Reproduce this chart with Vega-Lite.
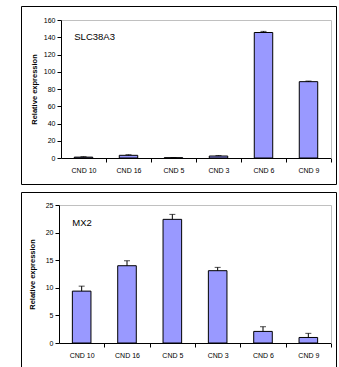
{
  "$schema": "https://vega.github.io/schema/vega-lite/v6.json",
  "padding": {"left": 20, "top": 5, "right": 0, "bottom": 0},
  "spacing": 6,
  "config": {
    "font": "Liberation Sans",
    "view": {"stroke": "black", "strokeWidth": 1, "fill": "white"},
    "axis": {"labelFont": "Liberation Sans", "labelFontSize": 7, "labelColor": "black", "domainColor": "black", "tickColor": "black", "tickSize": 4, "grid": false, "titleFont": "Liberation Sans", "titleColor": "black"}
  },
  "vconcat": [
    {
      "width": 315,
      "height": 178,
      "data": {"values": [
        {"cat": "CND 10", "value": 1.0, "upper": 1.5},
        {"cat": "CND 16", "value": 3.1, "upper": 3.8},
        {"cat": "CND 5", "value": 0.3, "upper": 0.5},
        {"cat": "CND 3", "value": 2.3, "upper": 2.8},
        {"cat": "CND 6", "value": 145.5, "upper": 146.8},
        {"cat": "CND 9", "value": 88.5, "upper": 89.2}
      ]},
      "resolve": {"axis": {"x": "independent", "y": "independent"}},
      "layer": [
        {
          "mark": {"type": "bar", "fill": "#9999ff", "stroke": "black", "strokeWidth": 1},
          "encoding": {
            "x": {"field": "cat", "type": "nominal", "sort": null,
              "scale": {"domain": ["CND 10", "CND 16", "CND 5", "CND 3", "CND 6", "CND 9"], "range": [40, 310], "paddingInner": 0.59, "paddingOuter": 0.295},
              "axis": {"orient": "bottom", "offset": -26, "title": null, "labelAngle": 0, "ticks": true, "tickOffset": 22.5, "labelOffset": -22.5, "tickWidth": 1, "labelPadding": 4}},
            "y": {"field": "value", "type": "quantitative",
              "scale": {"domain": [0, 160], "range": [152, 14], "nice": false, "zero": true},
              "axis": {"orient": "left", "offset": -40, "values": [0, 20, 40, 60, 80, 100, 120, 140, 160], "labelPadding": 2, "title": "Relative expression", "titleFontSize": 7.5, "titleFontWeight": "bold", "titlePadding": 5}}
          }
        },
        {
          "mark": {"type": "rule", "color": "black", "strokeWidth": 1},
          "encoding": {
            "x": {"field": "cat", "type": "nominal", "sort": null,
              "axis": {"orient": "top", "offset": -14, "domainColor": "#c0c0c0", "ticks": false, "labels": false, "title": null}},
            "y": {"field": "value", "type": "quantitative",
              "axis": {"orient": "right", "offset": -5, "domainColor": "#c0c0c0", "ticks": false, "labels": false, "title": null}},
            "y2": {"field": "upper"}
          }
        },
        {
          "mark": {"type": "tick", "color": "black", "thickness": 1, "size": 6},
          "encoding": {
            "x": {"field": "cat", "type": "nominal", "sort": null, "axis": null},
            "y": {"field": "upper", "type": "quantitative", "axis": null}
          }
        },
        {
          "data": {"values": [{"gene": "SLC38A3"}]},
          "mark": {"type": "text", "align": "left", "baseline": "middle", "fontSize": 9.5, "color": "black"},
          "encoding": {
            "x": {"datum": "CND 10", "type": "nominal", "bandPosition": 0, "axis": null},
            "y": {"datum": 140, "type": "quantitative", "axis": null},
            "text": {"field": "gene"}
          }
        }
      ]
    },
    {
      "width": 315,
      "height": 178,
      "data": {"values": [
        {"cat": "CND 10", "value": 9.4, "upper": 10.3},
        {"cat": "CND 16", "value": 14.0, "upper": 14.9},
        {"cat": "CND 5", "value": 22.4, "upper": 23.3},
        {"cat": "CND 3", "value": 13.1, "upper": 13.7},
        {"cat": "CND 6", "value": 2.1, "upper": 2.95},
        {"cat": "CND 9", "value": 1.0, "upper": 1.75}
      ]},
      "resolve": {"axis": {"x": "independent", "y": "independent"}},
      "layer": [
        {
          "mark": {"type": "bar", "fill": "#9999ff", "stroke": "black", "strokeWidth": 1},
          "encoding": {
            "x": {"field": "cat", "type": "nominal", "sort": null,
              "scale": {"domain": ["CND 10", "CND 16", "CND 5", "CND 3", "CND 6", "CND 9"], "range": [38, 310], "paddingInner": 0.59, "paddingOuter": 0.295},
              "axis": {"orient": "bottom", "offset": -27, "title": null, "labelAngle": 0, "ticks": true, "tickOffset": 22.67, "labelOffset": -22.67, "tickWidth": 1, "labelPadding": 4}},
            "y": {"field": "value", "type": "quantitative",
              "scale": {"domain": [0, 25], "range": [151, 13], "nice": false, "zero": true},
              "axis": {"orient": "left", "offset": -38, "values": [0, 5, 10, 15, 20, 25], "labelPadding": 2, "title": "Relative expression", "titleFontSize": 7.5, "titleFontWeight": "bold", "titlePadding": 9}}
          }
        },
        {
          "mark": {"type": "rule", "color": "black", "strokeWidth": 1},
          "encoding": {
            "x": {"field": "cat", "type": "nominal", "sort": null,
              "axis": {"orient": "top", "offset": -13, "domainColor": "#c0c0c0", "ticks": false, "labels": false, "title": null}},
            "y": {"field": "value", "type": "quantitative",
              "axis": {"orient": "right", "offset": -5, "domainColor": "#c0c0c0", "ticks": false, "labels": false, "title": null}},
            "y2": {"field": "upper"}
          }
        },
        {
          "mark": {"type": "tick", "color": "black", "thickness": 1, "size": 6},
          "encoding": {
            "x": {"field": "cat", "type": "nominal", "sort": null, "axis": null},
            "y": {"field": "upper", "type": "quantitative", "axis": null}
          }
        },
        {
          "data": {"values": [{"gene": "MX2"}]},
          "mark": {"type": "text", "align": "left", "baseline": "middle", "fontSize": 9.5, "color": "black"},
          "encoding": {
            "x": {"datum": "CND 10", "type": "nominal", "bandPosition": 0, "axis": null},
            "y": {"datum": 21.7, "type": "quantitative", "axis": null},
            "text": {"field": "gene"}
          }
        }
      ]
    }
  ]
}
